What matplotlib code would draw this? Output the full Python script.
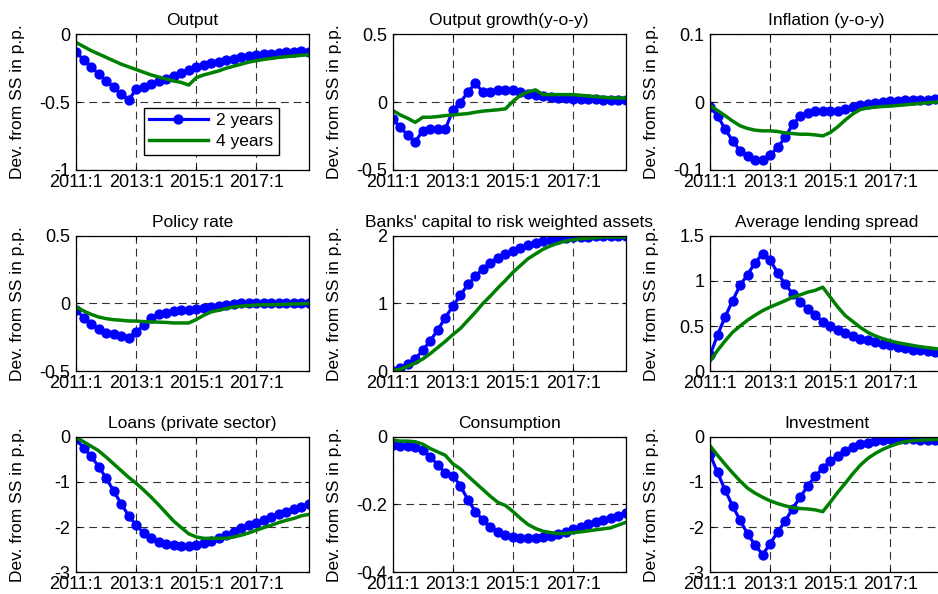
import matplotlib
matplotlib.use("Agg")
import matplotlib.pyplot as plt

plt.rcParams['font.family'] = ['Liberation Sans', 'DejaVu Sans']
plt.rcParams['axes.unicode_minus'] = False

quarters = list(range(32))
xtick_pos = [0, 8, 16, 24]
xtick_labels = ["2011:1", "2013:1", "2015:1", "2017:1"]
series_names = ["2 years", "4 years"]

titles = ["Output", "Output growth(y-o-y)", "Inflation (y-o-y)",
          "Policy rate", "Banks' capital to risk weighted assets", "Average lending spread",
          "Loans (private sector)", "Consumption", "Investment"]

output_2y = [-0.128, -0.19, -0.239, -0.293, -0.342, -0.392, -0.441, -0.485, -0.406, -0.387,
             -0.367, -0.347, -0.328, -0.308, -0.288, -0.264, -0.244, -0.229, -0.214, -0.202,
             -0.19, -0.18, -0.17, -0.16, -0.153, -0.148, -0.143, -0.138, -0.133, -0.128, -0.126, -0.13]
output_4y = [-0.06, -0.09, -0.12, -0.145, -0.17, -0.195, -0.22, -0.24, -0.26, -0.28,
             -0.30, -0.315, -0.33, -0.345, -0.355, -0.375, -0.32, -0.30, -0.285, -0.27,
             -0.25, -0.235, -0.22, -0.205, -0.195, -0.185, -0.178, -0.17, -0.165, -0.16, -0.155, -0.15]

growth_2y = [-0.124, -0.187, -0.244, -0.294, -0.211, -0.2, -0.2, -0.2, -0.062, -0.005,
             0.075, 0.137, 0.075, 0.075, 0.087, 0.087, 0.087, 0.075, 0.062, 0.055,
             0.042, 0.037, 0.033, 0.03, 0.025, 0.022, 0.02, 0.02, 0.018, 0.018, 0.018, 0.017]
growth_4y = [-0.062, -0.095, -0.12, -0.15, -0.112, -0.112, -0.107, -0.1, -0.095, -0.09,
             -0.085, -0.075, -0.067, -0.062, -0.057, -0.05, 0.005, 0.05, 0.075, 0.09,
             0.055, 0.055, 0.055, 0.055, 0.055, 0.05, 0.045, 0.04, 0.035, 0.032, 0.03, 0.03]

infl_2y = [-0.0075, -0.02, -0.04, -0.057, -0.072, -0.08, -0.085, -0.086, -0.078, -0.067,
           -0.052, -0.033, -0.021, -0.016, -0.0135, -0.0135, -0.0135, -0.0125, -0.01, -0.0075,
           -0.005, -0.0025, -0.001, 0.0, 0.001, 0.002, 0.0025, 0.003, 0.0035, 0.0035, 0.004, 0.004]
infl_4y = [-0.005, -0.0125, -0.02, -0.028, -0.035, -0.039, -0.0415, -0.0425, -0.0425, -0.0435,
           -0.0455, -0.0465, -0.0475, -0.0475, -0.0485, -0.05, -0.045, -0.0365, -0.0265, -0.0175,
           -0.011, -0.0085, -0.0075, -0.0065, -0.006, -0.005, -0.004, -0.003, -0.002, -0.001, 0.0, 0.0015]

policy_2y = [-0.045, -0.104, -0.154, -0.186, -0.218, -0.228, -0.243, -0.253, -0.211, -0.161,
             -0.104, -0.079, -0.067, -0.057, -0.05, -0.045, -0.04, -0.033, -0.025, -0.018,
             -0.012, -0.005, 0.0, 0.005, 0.006, 0.005, 0.005, 0.005, 0.005, 0.005, 0.005, 0.005]
policy_4y = [-0.025, -0.055, -0.08, -0.1, -0.112, -0.12, -0.124, -0.129, -0.13, -0.134,
             -0.136, -0.138, -0.14, -0.144, -0.144, -0.144, -0.119, -0.087, -0.062, -0.05,
             -0.037, -0.025, -0.02, -0.015, -0.012, -0.01, -0.01, -0.008, -0.006, -0.004, -0.002, 0.0]

capital_2y = [0.01, 0.05, 0.1, 0.18, 0.31, 0.45, 0.61, 0.79, 0.96, 1.12,
              1.28, 1.40, 1.51, 1.60, 1.67, 1.73, 1.78, 1.82, 1.86, 1.89,
              1.92, 1.94, 1.955, 1.97, 1.975, 1.98, 1.985, 1.99, 1.99, 1.99, 1.99, 1.99]
capital_4y = [0.01, 0.03, 0.07, 0.12, 0.18, 0.26, 0.35, 0.44, 0.54, 0.63,
              0.75, 0.87, 1.0, 1.11, 1.23, 1.34, 1.46, 1.56, 1.66, 1.73,
              1.80, 1.85, 1.89, 1.92, 1.94, 1.955, 1.965, 1.97, 1.98, 1.98, 1.98, 1.98]

spread_2y = [0.175, 0.4, 0.6, 0.78, 0.95, 1.07, 1.2, 1.3, 1.23, 1.09,
             0.96, 0.86, 0.77, 0.69, 0.62, 0.55, 0.5, 0.46, 0.42, 0.39,
             0.36, 0.34, 0.325, 0.305, 0.29, 0.27, 0.26, 0.24, 0.23, 0.22, 0.21, 0.2]
spread_4y = [0.11, 0.23, 0.335, 0.43, 0.5, 0.565, 0.62, 0.67, 0.71, 0.745,
             0.78, 0.82, 0.845, 0.875, 0.895, 0.93, 0.82, 0.71, 0.615, 0.55,
             0.485, 0.43, 0.39, 0.36, 0.335, 0.315, 0.3, 0.285, 0.27, 0.26, 0.25, 0.24]

loans_2y = [-0.06, -0.24, -0.43, -0.66, -0.91, -1.2, -1.48, -1.75, -1.96, -2.13,
            -2.24, -2.33, -2.37, -2.4, -2.41, -2.41, -2.39, -2.35, -2.3, -2.24,
            -2.18, -2.1, -2.03, -1.96, -1.9, -1.84, -1.78, -1.72, -1.66, -1.6, -1.55, -1.5]
loans_4y = [-0.02, -0.11, -0.21, -0.31, -0.45, -0.6, -0.75, -0.9, -1.03, -1.18,
            -1.34, -1.51, -1.69, -1.87, -2.01, -2.15, -2.22, -2.25, -2.25, -2.25,
            -2.25, -2.22, -2.18, -2.13, -2.07, -2.01, -1.96, -1.9, -1.85, -1.81, -1.75, -1.72]

cons_2y = [-0.025, -0.028, -0.028, -0.03, -0.04, -0.06, -0.083, -0.108, -0.115, -0.145,
           -0.186, -0.221, -0.246, -0.266, -0.281, -0.289, -0.296, -0.3, -0.3, -0.3,
           -0.297, -0.293, -0.288, -0.281, -0.273, -0.266, -0.259, -0.253, -0.246, -0.241, -0.233, -0.226]
cons_4y = [-0.01, -0.013, -0.013, -0.015, -0.022, -0.035, -0.045, -0.055, -0.08, -0.095,
           -0.116, -0.136, -0.156, -0.176, -0.194, -0.203, -0.221, -0.241, -0.259, -0.271,
           -0.279, -0.283, -0.286, -0.286, -0.283, -0.281, -0.278, -0.275, -0.272, -0.269, -0.261, -0.253]

invest_2y = [-0.39, -0.79, -1.18, -1.53, -1.85, -2.15, -2.4, -2.61, -2.37, -2.11,
             -1.87, -1.59, -1.34, -1.09, -0.87, -0.7, -0.54, -0.42, -0.32, -0.23,
             -0.17, -0.13, -0.09, -0.075, -0.06, -0.06, -0.06, -0.06, -0.065, -0.07, -0.07, -0.075]
invest_4y = [-0.2, -0.41, -0.61, -0.8, -0.98, -1.14, -1.25, -1.34, -1.42, -1.48,
             -1.53, -1.57, -1.59, -1.6, -1.62, -1.66, -1.45, -1.23, -1.03, -0.82,
             -0.63, -0.48, -0.37, -0.28, -0.21, -0.15, -0.11, -0.09, -0.075, -0.07, -0.06, -0.055]

panels = [(output_2y, output_4y), (growth_2y, growth_4y), (infl_2y, infl_4y),
          (policy_2y, policy_4y), (capital_2y, capital_4y), (spread_2y, spread_4y),
          (loans_2y, loans_4y), (cons_2y, cons_4y), (invest_2y, invest_4y)]

yticks = [[-1, -0.5, 0], [-0.5, 0, 0.5], [-0.1, 0, 0.1],
          [-0.5, 0, 0.5], [0, 1, 2], [0, 0.5, 1, 1.5],
          [-3, -2, -1, 0], [-0.4, -0.2, 0], [-3, -2, -1, 0]]
ytick_labels = [["-1", "-0.5", "0"], ["-0.5", "0", "0.5"], ["-0.1", "0", "0.1"],
                ["-0.5", "0", "0.5"], ["0", "1", "2"], ["0", "0.5", "1", "1.5"],
                ["-3", "-2", "-1", "0"], ["-0.4", "-0.2", "0"], ["-3", "-2", "-1", "0"]]

W, H = 938, 594
fig = plt.figure(figsize=(W / 100, H / 100), dpi=100)
col_left = [76, 392.7, 710]
row_top = [34.3, 235.7, 436.7]
aw, ah = 233, 135.5

for i in range(9):
    r, c = divmod(i, 3)
    left = col_left[c]
    bottom = row_top[r] + ah
    ax = fig.add_axes([left / W, (H - bottom) / H, aw / W, ah / H])
    s2, s4 = panels[i]
    ax.plot(quarters, s2, color=(0, 0, 1), lw=2.3, marker='o', ms=6.4,
            label=series_names[0], zorder=3)
    ax.plot(quarters, s4, color=(0, 0.5, 0), lw=2.5, label=series_names[1], zorder=4)
    ax.set_xlim(0, 31)
    ax.set_ylim(yticks[i][0], yticks[i][-1])
    ax.set_xticks(xtick_pos)
    ax.set_xticklabels(xtick_labels)
    ax.set_yticks(yticks[i])
    ax.set_yticklabels(ytick_labels[i])
    ax.grid(True, color='0.2', linestyle=(0, (7, 4.5)), lw=0.8)
    ax.tick_params(direction='in', length=3, labelsize=13, top=True, right=True,
                   pad=3)
    ax.tick_params(axis='y', pad=4)
    for sp in ax.spines.values():
        sp.set_linewidth(0.9)
        sp.set_zorder(5)
    ax.set_title(titles[i], fontsize=12.5, pad=6.5)
    ax.set_ylabel("Dev. from SS in p.p.", fontsize=12.5)
    ax.yaxis.set_label_coords(-0.219, 0.5)
    if i == 0:
        ax.legend(loc='upper left', bbox_to_anchor=(0.29, 0.457), fontsize=12.5,
                  fancybox=False, edgecolor='black', framealpha=1,
                  handlelength=3.4, borderpad=0.3, labelspacing=0.35,
                  handletextpad=0.5, borderaxespad=0)

fig.savefig("out.png", dpi=100)
